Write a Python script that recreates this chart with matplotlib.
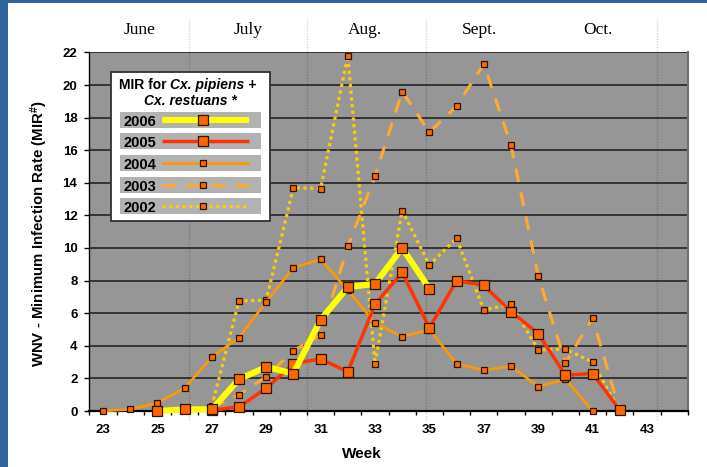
import numpy as np
import matplotlib
matplotlib.use("Agg")
import matplotlib.pyplot as plt
from matplotlib.patches import Rectangle
from matplotlib.lines import Line2D
from matplotlib.text import Annotation

plt.rcParams["font.family"] = ["Liberation Sans", "DejaVu Sans"]
plt.rcParams["mathtext.fontset"] = "custom"
plt.rcParams["mathtext.rm"] = "Liberation Sans:bold"
plt.rcParams["mathtext.bf"] = "Liberation Sans:bold"
plt.rcParams["mathtext.it"] = "Liberation Sans:italic"

nan = np.nan
# ---------------- data ----------------
weeks = list(range(23, 45))  # categories 23..44
mir_2006 = [nan, nan, 0.0, 0.1, 0.1, 1.95, 2.7, 2.3, 5.6, 7.6, 7.8, 10.0, 7.5,
            nan, nan, nan, nan, nan, nan, nan, nan, nan]
mir_2005 = [nan, nan, nan, nan, 0.05, 0.25, 1.4, 2.9, 3.2, 2.4, 6.55, 8.5, 5.1,
            8.0, 7.7, 6.1, 4.75, 2.2, 2.3, 0.05, nan, nan]
mir_2004 = [0.0, 0.1, 0.5, 1.4, 3.3, 4.5, 6.7, 8.8, 9.3, 7.4, 5.4, 4.55, 5.0,
            2.9, 2.5, 2.75, 1.5, 1.95, 0.0, nan, nan, nan]
mir_2003 = [nan, nan, nan, nan, 0.2, 1.0, 2.1, 3.7, 4.65, 10.1, 14.4, 19.6, 17.1,
            18.7, 21.3, 16.3, 8.3, 2.95, 5.7, 0.0, nan, nan]
mir_2002 = [nan, nan, nan, nan, 0.3, 6.75, 6.8, 13.7, 13.65, 21.8, 2.9, 12.3, 8.95,
            10.6, 6.2, 6.55, 3.75, 3.8, 3.0, 0.0, nan, nan]
series_years = ["2006", "2005", "2004", "2003", "2002"]
series_values = [mir_2006, mir_2005, mir_2004, mir_2003, mir_2002]
week_labels = [23, 25, 27, 29, 31, 33, 35, 37, 39, 41, 43]
y_ticks = list(range(0, 23, 2))
month_names = ["June", "July", "Aug.", "Sept.", "Oct."]

# ---------------- styles / layout ----------------
W, H = 707, 467
MFC, MEC = "#FF6600", "#2a1500"
styles = {
    "2006": dict(color="#FFFF00", lw=4.4, ls="-", ms=6.6),
    "2005": dict(color="#FF3300", lw=2.5, ls="-", ms=6.6),
    "2004": dict(color="#FF9900", lw=1.9, ls="-", ms=4.4),
    "2003": dict(color="#FFAA2E", lw=2.2, ls=(0, (4.5, 3.5)), ms=4.4),
    "2002": dict(color="#FFCC00", lw=2.3, ls=(0, (1, 1.1)), ms=4.4),
}
month_label_x = [24.36, 28.33, 32.63, 36.86, 41.2]
month_divider_x = [26.16, 30.5, 34.87, 43.37]

fig = plt.figure(figsize=(W / 100, H / 100), dpi=100)
fig.patch.set_facecolor("white")


def F(px, py):
    return (px / W, 1 - py / H)


ax_l, ax_r, ax_t, ax_b = 89.4, 687.8, 52.4, 411.0
ax = fig.add_axes([ax_l / W, 1 - ax_b / H, (ax_r - ax_l) / W, (ax_b - ax_t) / H])
ax.set_facecolor("#969696")
ax.set_xlim(22.5, 44.5)
ax.set_ylim(0, 22)

# grid
ax.set_yticks(y_ticks)
ax.yaxis.grid(True, color="#1a1a1a", lw=1.1)
ax.set_axisbelow(True)

# series (2002 drawn first, 2006 on top)
for yr, vals in reversed(list(zip(series_years, series_values))):
    st = styles[yr]
    ax.plot(weeks, vals, color=st["color"], lw=st["lw"], linestyle=st["ls"],
            marker="s", ms=st["ms"], mfc=MFC, mec=MEC, mew=0.9,
            solid_capstyle="butt", dash_capstyle="butt", clip_on=False, zorder=3)

# spines
ax.spines["top"].set_visible(False)
ax.spines["right"].set_color("#707070")
ax.spines["right"].set_linewidth(1.5)
ax.spines["left"].set_color("black")
ax.spines["left"].set_linewidth(1.0)
ax.spines["bottom"].set_color("black")
ax.spines["bottom"].set_linewidth(1.6)

# ticks
ax.set_xticks(np.arange(22.5, 45, 1))
ax.set_xticklabels([])
ax.set_xticks(week_labels, minor=True)
ax.set_xticklabels([str(w) for w in week_labels], minor=True)
ax.tick_params(axis="x", which="major", length=3.2, width=1, color="black", direction="out")
ax.tick_params(axis="x", which="minor", length=0, pad=9.2, labelsize=9.5)
ax.tick_params(axis="y", which="major", length=3.6, width=1, color="black", pad=5.0, labelsize=9.5)
for lab in ax.get_xticklabels(minor=True) + ax.get_yticklabels():
    lab.set_fontweight("bold")

# month dividers and labels
for x in month_divider_x:
    ax.plot([x, x], [-0.025, 1.092], transform=ax.get_xaxis_transform(), clip_on=False,
            color="black", alpha=0.17, lw=1.0, linestyle=(0, (1, 1)), zorder=1)
for x, name in zip(month_label_x, month_names):
    ax.text(x, 1.062, name, transform=ax.get_xaxis_transform(), ha="center", va="center",
            fontsize=12.5, family="Liberation Serif")

# axis titles
fig.text(*F(39, 234), r"WNV - Minimum Infection Rate (MIR$^{\#}$)", rotation=90,
         ha="center", va="center", fontsize=10.8, fontweight="bold")
fig.text(*F(362, 454), "Week", ha="center", va="center", fontsize=11, fontweight="bold")

# blue frame
fig.add_artist(Rectangle((0, 0), 8 / W, 1, transform=fig.transFigure,
                         facecolor="#2E6399", edgecolor="none", zorder=20))
fig.add_artist(Rectangle((0, 1 - 3 / H), 1, 3 / H, transform=fig.transFigure,
                         facecolor="#2E6399", edgecolor="none", zorder=20))

# ---------------- legend (drawn manually) ----------------
bx0, by0, bx1, by1 = 111, 72, 270, 221
fig.add_artist(Rectangle(F(bx0, by1), (bx1 - bx0) / W, (by1 - by0) / H,
                         transform=fig.transFigure, facecolor="white",
                         edgecolor="#303030", lw=1.3, zorder=10))
t1 = fig.text(*F(119, 89), "MIR for ", fontsize=10, fontweight="bold",
              ha="left", va="baseline", zorder=11)
t2 = Annotation("Cx. pipiens +", xy=(1, 0), xycoords=t1, ha="left", va="bottom",
                fontsize=10, fontweight="bold", fontstyle="italic", annotation_clip=False)
t2.set_zorder(11)
fig.add_artist(t2)
fig.text(*F(144, 105), "Cx. restuans *", fontsize=10, fontweight="bold",
         fontstyle="italic", ha="left", va="baseline", zorder=11)

row_tops = [112, 133, 155, 177, 198]
for yr, top in zip(series_years, row_tops):
    st = styles[yr]
    fig.add_artist(Rectangle(F(120, top + 16), (261 - 120) / W, 16 / H,
                             transform=fig.transFigure, facecolor="#b2b2b2",
                             edgecolor="none", zorder=10.5))
    cy = top + 8
    fig.text(*F(123, cy + 2), yr, fontsize=10.5, fontweight="bold", ha="left",
             va="center", zorder=11)
    (lx0, ly), (lx1, _) = F(162, cy), F(249, cy)
    fig.add_artist(Line2D([lx0, lx1], [ly, ly], transform=fig.transFigure,
                          color=st["color"], lw=st["lw"], linestyle=st["ls"],
                          solid_capstyle="butt", dash_capstyle="butt", zorder=11))
    mx, my = F(203, cy)
    fig.add_artist(Line2D([mx], [my], transform=fig.transFigure, marker="s",
                          ms=st["ms"], mfc=MFC, mec=MEC, mew=0.9, zorder=12))

fig.savefig("out.png", dpi=100, facecolor="white")
